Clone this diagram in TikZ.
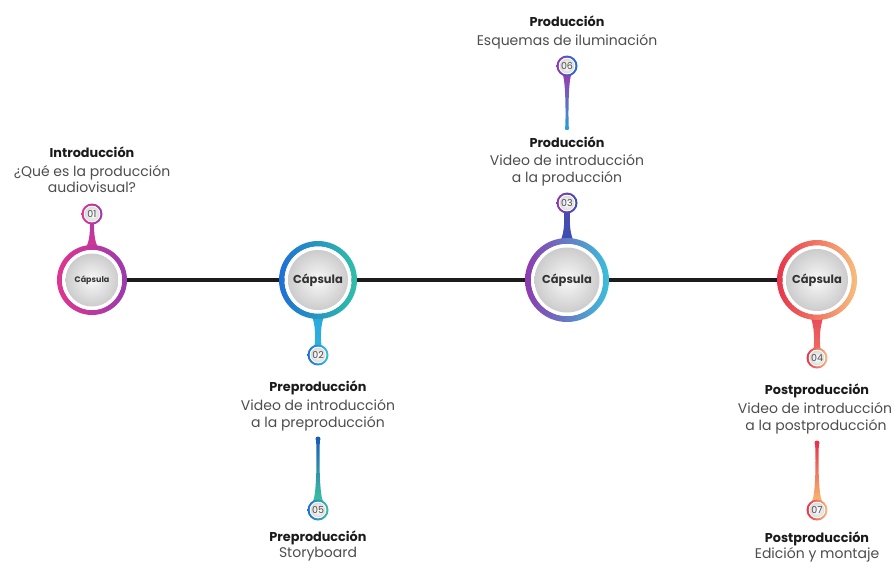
\documentclass[tikz,border=0pt]{standalone}
\usepackage{fontspec}
\setmainfont{Poppins}
\usetikzlibrary{backgrounds}
\definecolor{pinkA}{HTML}{E0358F}
\definecolor{purpA}{HTML}{9A3BAE}
\definecolor{blueB}{HTML}{1F6FD6}
\definecolor{tealB}{HTML}{2FC0A8}
\definecolor{cyanB}{HTML}{2AA8DC}
\definecolor{purpC}{HTML}{8E3AAE}
\definecolor{blueC}{HTML}{3A4FB0}
\definecolor{cyanC}{HTML}{3AC0DA}
\definecolor{redD}{HTML}{E8344A}
\definecolor{peachD}{HTML}{F7BE7E}
\definecolor{greenE}{HTML}{3EC0A0}
\definecolor{lineK}{HTML}{1C1C1C}
\definecolor{txtT}{HTML}{1A1A1A}
\definecolor{txtB}{HTML}{4D4D4D}

\newcommand\capring[5]{% x, y, radius, ring width, shading options
  \pgfmathsetmacro\capRin{#3-#4}%
  \pgfmathsetmacro\capRdisk{#3-#4-3.5}%
  \shade[#5, even odd rule] (#1,#2) circle[radius=#3pt] (#1,#2) circle[radius=\capRin pt];
  \fill[white] (#1,#2) circle[radius=\capRin pt];
  \shade[inner color=gray!5, outer color=gray!40] (#1,#2) circle[radius=\capRdisk pt];
}
\newcommand\numring[3]{% x, y, shading options
  \shade[#3, even odd rule] (#1,#2) circle[radius=10.5pt] (#1,#2) circle[radius=8.3pt];
  \fill[white] (#1,#2) circle[radius=8.3pt];
  \shade[inner color=white, outer color=gray!28] (#1,#2) circle[radius=7.3pt];
}
\newcommand\stemshape[9]{% x, y1, y2, w1, wm, w2, fa, fb, shading options
  \pgfmathsetmacro\stA{#1-#4/2}\pgfmathsetmacro\stB{#1+#4/2}%
  \pgfmathsetmacro\stC{#1-#5/2}\pgfmathsetmacro\stD{#1+#5/2}%
  \pgfmathsetmacro\stE{#1-#6/2}\pgfmathsetmacro\stF{#1+#6/2}%
  \pgfmathsetmacro\stYa{#2+#7*(#3-#2)}\pgfmathsetmacro\stYb{#2+#8*(#3-#2)}%
  \shade[#9] (\stA,#2) -- (\stB,#2) .. controls (\stD,\stYa) and (\stD,\stYb) .. (\stF,#3)
     -- (\stE,#3) .. controls (\stC,\stYb) and (\stC,\stYa) .. cycle;
}

\tikzset{
  capnode/.style={circle, inner sep=0pt, minimum size=#1, text=black!80,
    font=\fontsize{11.5}{13}\selectfont\bfseries},
  numlbl/.style={circle, inner sep=0pt, minimum size=21pt, text=black!70,
    font=\fontsize{9.5}{10}\selectfont},
  ttl/.style={anchor=base, inner sep=0pt, text=txtT,
    font=\fontsize{12.8}{15}\selectfont\bfseries},
  bdy/.style={anchor=base, inner sep=0pt, text=txtB,
    font=\fontsize{14}{16}\selectfont},
  mainline/.style={line width=4pt, draw=lineK},
}

\begin{document}
\begin{tikzpicture}[x=1pt,y=-1pt]
\useasboundingbox (0,0) rectangle (893,563);

% stems between capsules and number circles
\stemshape{92}{222}{248}{4}{4}{13}{0.3}{0.75}{top color=purpA!70!pinkA, bottom color=pinkA!85!purpA}
\stemshape{318}{315}{346}{13}{5}{7}{0.3}{0.7}{top color=cyanB, bottom color=cyanB!70!cyanC}
\stemshape{567}{211}{241}{6}{5}{13}{0.3}{0.7}{top color=blueC!80!purpC, bottom color=blueC}
\stemshape{817}{317}{350}{13}{5}{7}{0.3}{0.7}{top color=redD!90!white, bottom color=redD!60!peachD}

% pins
\stemshape{567}{128}{74}{3.5}{2.4}{9}{0.2}{0.88}{top color=purpA, bottom color=cyanB!80!blueB}
\fill[cyanB!80!blueB] (567,128) circle[radius=2.2pt];
\stemshape{318}{439}{501}{4}{2.2}{10}{0.2}{0.88}{top color=blueB!85!black, bottom color=greenE}
\fill[blueB!85!black] (318,439) circle[radius=2.5pt];
\stemshape{817}{443}{501}{4}{2.2}{10}{0.2}{0.88}{top color=redD, bottom color=peachD!90!orange}
\fill[redD] (817,443) circle[radius=2.5pt];

% capsules
\capring{92}{280}{35}{5}{left color=pinkA, right color=purpA}
\capring{318}{280}{39}{5.5}{left color=blueB, right color=tealB}
\capring{567}{280}{42}{6}{left color=purpC, middle color=blueC, right color=cyanC}
\capring{817}{280}{40}{5.5}{left color=redD, right color=peachD}

\node[capnode=70pt, font=\fontsize{8}{9}\selectfont\bfseries] (c1) at (92,280) {Cápsula};
\node[capnode=78pt] (c2) at (318,280) {Cápsula};
\node[capnode=84pt] (c3) at (567,280) {Cápsula};
\node[capnode=80pt] (c4) at (817,280) {Cápsula};

\begin{pgfonlayer}{background}
\draw[mainline] (c1.center) -- (c2.center) -- (c3.center) -- (c4.center);
\end{pgfonlayer}

% number circles
\numring{92}{214}{left color=pinkA, right color=purpA}
\numring{318}{355}{left color=blueB, right color=cyanC}
\numring{567}{203}{left color=purpC, right color=blueC}
\numring{817}{358}{left color=redD, right color=peachD}
\numring{318}{510}{left color=blueB, right color=greenE}
\numring{567}{66}{left color=purpC, right color=blueB}
\numring{817}{510}{left color=redD, right color=peachD}

\node[numlbl] (s1) at (92,214) {01};
\node[numlbl] (s2) at (318,355) {02};
\node[numlbl] (s3) at (567,203) {03};
\node[numlbl] (s4) at (817,358) {04};
\node[numlbl] (s5) at (318,510) {05};
\node[numlbl] (s6) at (567,66) {06};
\node[numlbl] (s7) at (817,510) {07};

% texts
\node[ttl] (t1a) at (92,157) {Introducción};
\node[bdy] (t1b) at (92,176) {¿Qué es la producción};
\node[bdy] (t1c) at (92,192) {audiovisual?};

\node[ttl] (t6a) at (567,26) {Producción};
\node[bdy] (t6b) at (567,45) {Esquemas de iluminación};

\node[ttl] (t3a) at (567,147) {Producción};
\node[bdy] (t3b) at (567,165) {Video de introducción};
\node[bdy] (t3c) at (567,182) {a la producción};

\node[ttl] (t2a) at (318,391) {Preproducción};
\node[bdy] (t2b) at (318,410) {Video de introducción};
\node[bdy] (t2c) at (318,427) {a la preproducción};

\node[ttl] (t5a) at (318,541) {Preproducción};
\node[bdy] (t5b) at (318,557) {Storyboard};

\node[ttl] (t4a) at (817,394) {Postproducción};
\node[bdy] (t4b) at (815,413) {Video de introducción};
\node[bdy] (t4c) at (816,430) {a la postproducción};

\node[ttl] (t7a) at (817,542) {Postproducción};
\node[bdy] (t7b) at (817,558) {Edición y montaje};
\end{tikzpicture}
\end{document}
